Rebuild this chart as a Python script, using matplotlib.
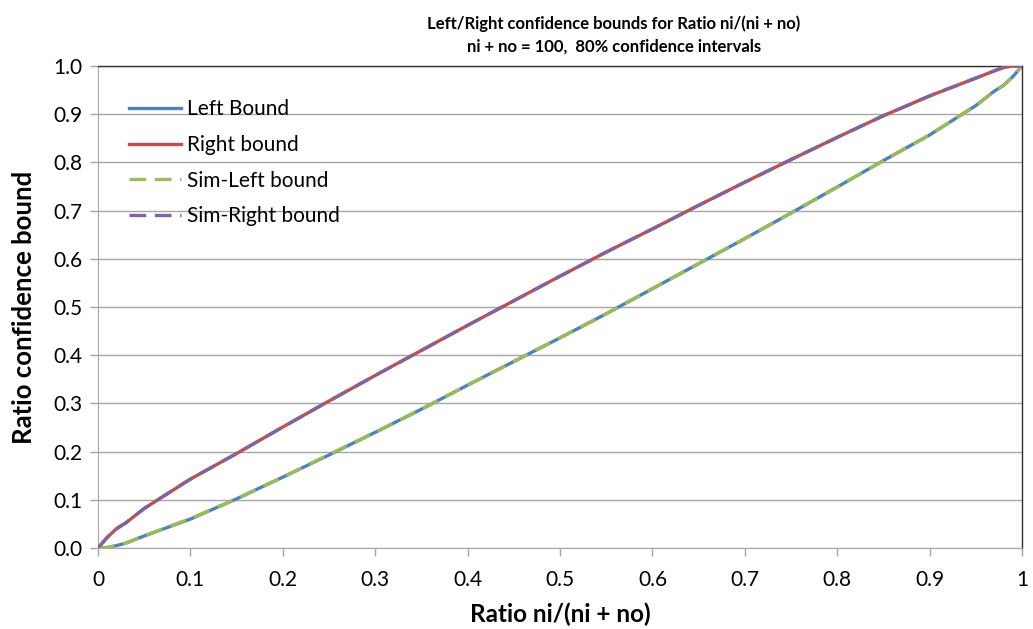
import matplotlib
matplotlib.use("Agg")
import matplotlib.pyplot as plt
from matplotlib.ticker import FixedLocator

plt.rcParams['font.family'] = ['Lato', 'DejaVu Sans']

# Ratio ni/(ni + no)
ratio = [0.0, 0.01, 0.02, 0.03, 0.05, 0.10, 0.15, 0.20, 0.25, 0.30, 0.35, 0.40, 0.45,
         0.50, 0.55, 0.60, 0.65, 0.70, 0.75, 0.80, 0.85, 0.90, 0.95, 0.97, 0.98, 0.99, 1.0]

left_bound = [0.0, 0.001, 0.005, 0.010, 0.025, 0.060, 0.102, 0.147, 0.193, 0.240, 0.288,
              0.338, 0.387, 0.436, 0.486, 0.538, 0.590, 0.642, 0.695, 0.749, 0.804,
              0.857, 0.918, 0.948, 0.960, 0.978, 1.0]

right_bound = [0.0, 0.022, 0.040, 0.052, 0.082, 0.143, 0.196, 0.251, 0.305, 0.358, 0.410,
               0.462, 0.513, 0.564, 0.614, 0.662, 0.711, 0.759, 0.806, 0.852, 0.897,
               0.938, 0.975, 0.990, 0.997, 1.0, 1.0]

# simulated bounds sit right on top of the exact ones
sim_left = [0.0, 0.001, 0.005, 0.010, 0.025, 0.061, 0.102, 0.147, 0.194, 0.240, 0.288,
            0.338, 0.387, 0.436, 0.486, 0.538, 0.590, 0.642, 0.695, 0.749, 0.804,
            0.857, 0.918, 0.948, 0.960, 0.978, 1.0]

sim_right = [0.0, 0.022, 0.040, 0.052, 0.082, 0.143, 0.196, 0.251, 0.305, 0.358, 0.410,
             0.462, 0.513, 0.564, 0.614, 0.662, 0.711, 0.759, 0.806, 0.852, 0.897,
             0.938, 0.975, 0.990, 0.997, 1.0, 1.0]

x_ticks = [0, 0.1, 0.2, 0.3, 0.4, 0.5, 0.6, 0.7, 0.8, 0.9, 1.0]
x_tick_labels = ['0', '0.1', '0.2', '0.3', '0.4', '0.5', '0.6', '0.7', '0.8', '0.9', '1']
y_ticks = [0.0, 0.1, 0.2, 0.3, 0.4, 0.5, 0.6, 0.7, 0.8, 0.9, 1.0]
y_tick_labels = ['%.1f' % v for v in y_ticks]

fig = plt.figure(figsize=(10.33, 6.29), dpi=100)
ax = fig.add_axes([0.0949, 0.1288, 0.8945, 0.7662])

lw = 2.4
ax.plot(ratio, left_bound, color='#4F81BD', lw=lw, label='Left Bound', zorder=3)
ax.plot(ratio, right_bound, color='#C0504D', lw=lw, label='Right bound', zorder=3)
ax.plot(ratio, sim_left, color='#9BBB59', lw=lw, dashes=(5, 2.6), label='Sim-Left bound', zorder=4)
ax.plot(ratio, sim_right, color='#8064A2', lw=lw, dashes=(5, 2.6), label='Sim-Right bound', zorder=4)

ax.set_xlim(0, 1)
ax.set_ylim(0, 1)
ax.xaxis.set_major_locator(FixedLocator(x_ticks))
ax.set_xticklabels(x_tick_labels)
ax.yaxis.set_major_locator(FixedLocator(y_ticks))
ax.set_yticklabels(y_tick_labels)

ax.grid(axis='y', color='#A6A6A6', lw=1.0)
ax.set_axisbelow(True)
ax.tick_params(axis='both', direction='out', length=6, width=1, color='#A6A6A6',
               labelsize=15, labelcolor='black')
ax.tick_params(axis='x', pad=10)
ax.tick_params(axis='y', pad=5)

for side in ['left', 'bottom']:
    ax.spines[side].set_color('#A6A6A6')
for side in ['top', 'right']:
    ax.spines[side].set_color('#303030')
    ax.spines[side].set_linewidth(1.0)

ax.set_xlabel('Ratio ni/(ni + no)', fontsize=17.5, fontweight='bold', labelpad=9)
ax.set_ylabel('Ratio confidence bound', fontsize=18.5, fontweight='bold', labelpad=13)

fig.text(0.5945, 0.975, 'Left/Right confidence bounds for Ratio ni/(ni + no)\nni + no = 100,  80% confidence intervals',
         ha='center', va='top', fontsize=12, fontweight='bold', linespacing=1.45)

leg = ax.legend(loc='upper left', bbox_to_anchor=(0.013, 0.97), frameon=False,
                fontsize=15, handlelength=2.5, labelspacing=0.75, handletextpad=0.3)

fig.savefig('out.png', dpi=100)
